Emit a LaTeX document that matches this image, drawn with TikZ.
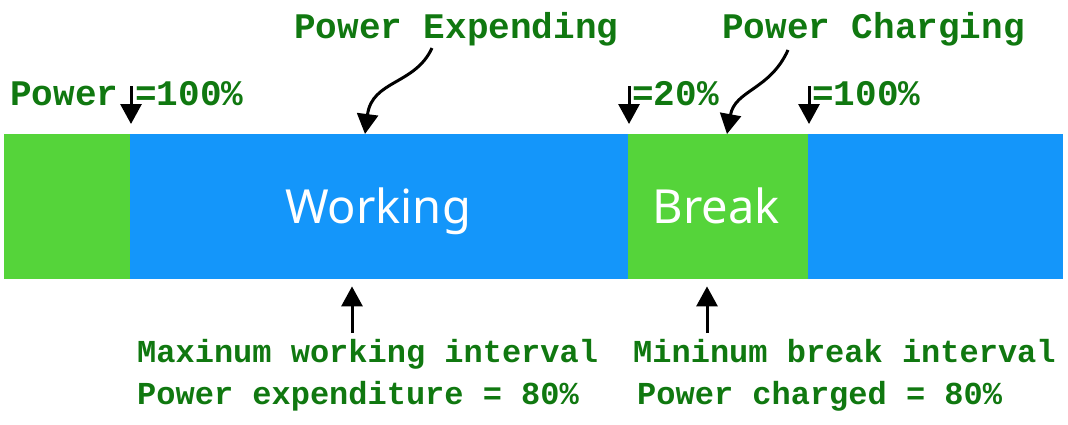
\documentclass[tikz,border=0pt]{standalone}
\usepackage{fontspec}
\usetikzlibrary{arrows.meta}
\newfontfamily\cour{Liberation Mono}
\newfontfamily\labfont{Noto Sans}
\definecolor{barblue}{RGB}{20,150,250}
\definecolor{bargreen}{RGB}{85,212,58}
\definecolor{txtgreen}{RGB}{16,120,16}
\tikzset{
  seg/.style={draw=none, inner sep=0pt, minimum height=145pt, anchor=north west},
  bigtxt/.style={text=white, anchor=base, inner sep=0pt, font=\labfont\fontsize{47}{52}\selectfont},
  gtop/.style={inner sep=0pt, anchor=base west, text=txtgreen, font=\cour\bfseries\fontsize{36}{40}\selectfont},
  gbot/.style={inner sep=0pt, anchor=base west, text=txtgreen, font=\cour\bfseries\fontsize{32}{36}\selectfont},
  tip/.style={-{Triangle[length=20pt,width=21pt]}},
  arrdown/.style={line width=3pt, tip, shorten >=10pt},
  arrup/.style={line width=3pt, tip, shorten >=7pt},
  carr/.style={line width=3pt, tip}
}
\begin{document}
\begin{tikzpicture}[x=1pt,y=-1pt]
\useasboundingbox (0,0) rectangle (1068,424);
% bar
\node[seg, fill=bargreen, minimum width=126pt] (g1) at (4,134) {};
\node[seg, fill=barblue, minimum width=498pt] (w) at (130,134) {};
\node[seg, fill=bargreen, minimum width=180pt] (b) at (628,134) {};
\node[seg, fill=barblue, minimum width=255pt] (w2) at (808,134) {};
\node[bigtxt] (wt) at (378,223) {Working};
\node[bigtxt] (bt) at (716,223) {Break};
% top labels
\node[gtop] (pe) at (294,38) {Power Expending};
\node[gtop] (pc) at (722,38) {Power Charging};
\node[gtop] (p) at (10,105) {Power};
\node[gtop] (p100) at (135,105) {=100\%};
\node[gtop] (p20) at (632,105) {=20\%};
\node[gtop] (p100b) at (812,105) {=100\%};
% bottom labels
\node[gbot] (m1) at (137,362) {Maxinum working interval};
\node[gbot] (m2) at (137,404) {Power expenditure = 80\%};
\node[gbot] (n1) at (633,362) {Mininum break interval};
\node[gbot] (n2) at (637,404) {Power charged = 80\%};
% arrow coordinates
\coordinate (d1) at (131,86);
\coordinate (d2) at (629,86);
\coordinate (d3) at (809,86);
\coordinate (u1) at (352,333);
\coordinate (u2) at (707,333);
\coordinate (c1) at (432,48);
\coordinate (c2) at (788,50);
\draw[arrdown] (d1) -- (d1 |- g1.north);
\draw[arrdown] (d2) -- (d2 |- b.north);
\draw[arrdown] (d3) -- (d3 |- b.north);
\draw[arrup] (u1) -- (u1 |- w.south);
\draw[arrup] (u2) -- (u2 |- b.south);
\draw[carr] (c1) .. controls (415,85) and (372,80) .. (w.north -| 365,0);
\draw[carr] (c2) .. controls (770,90) and (735,90) .. (b.north -| 727,0);
\end{tikzpicture}
\end{document}
